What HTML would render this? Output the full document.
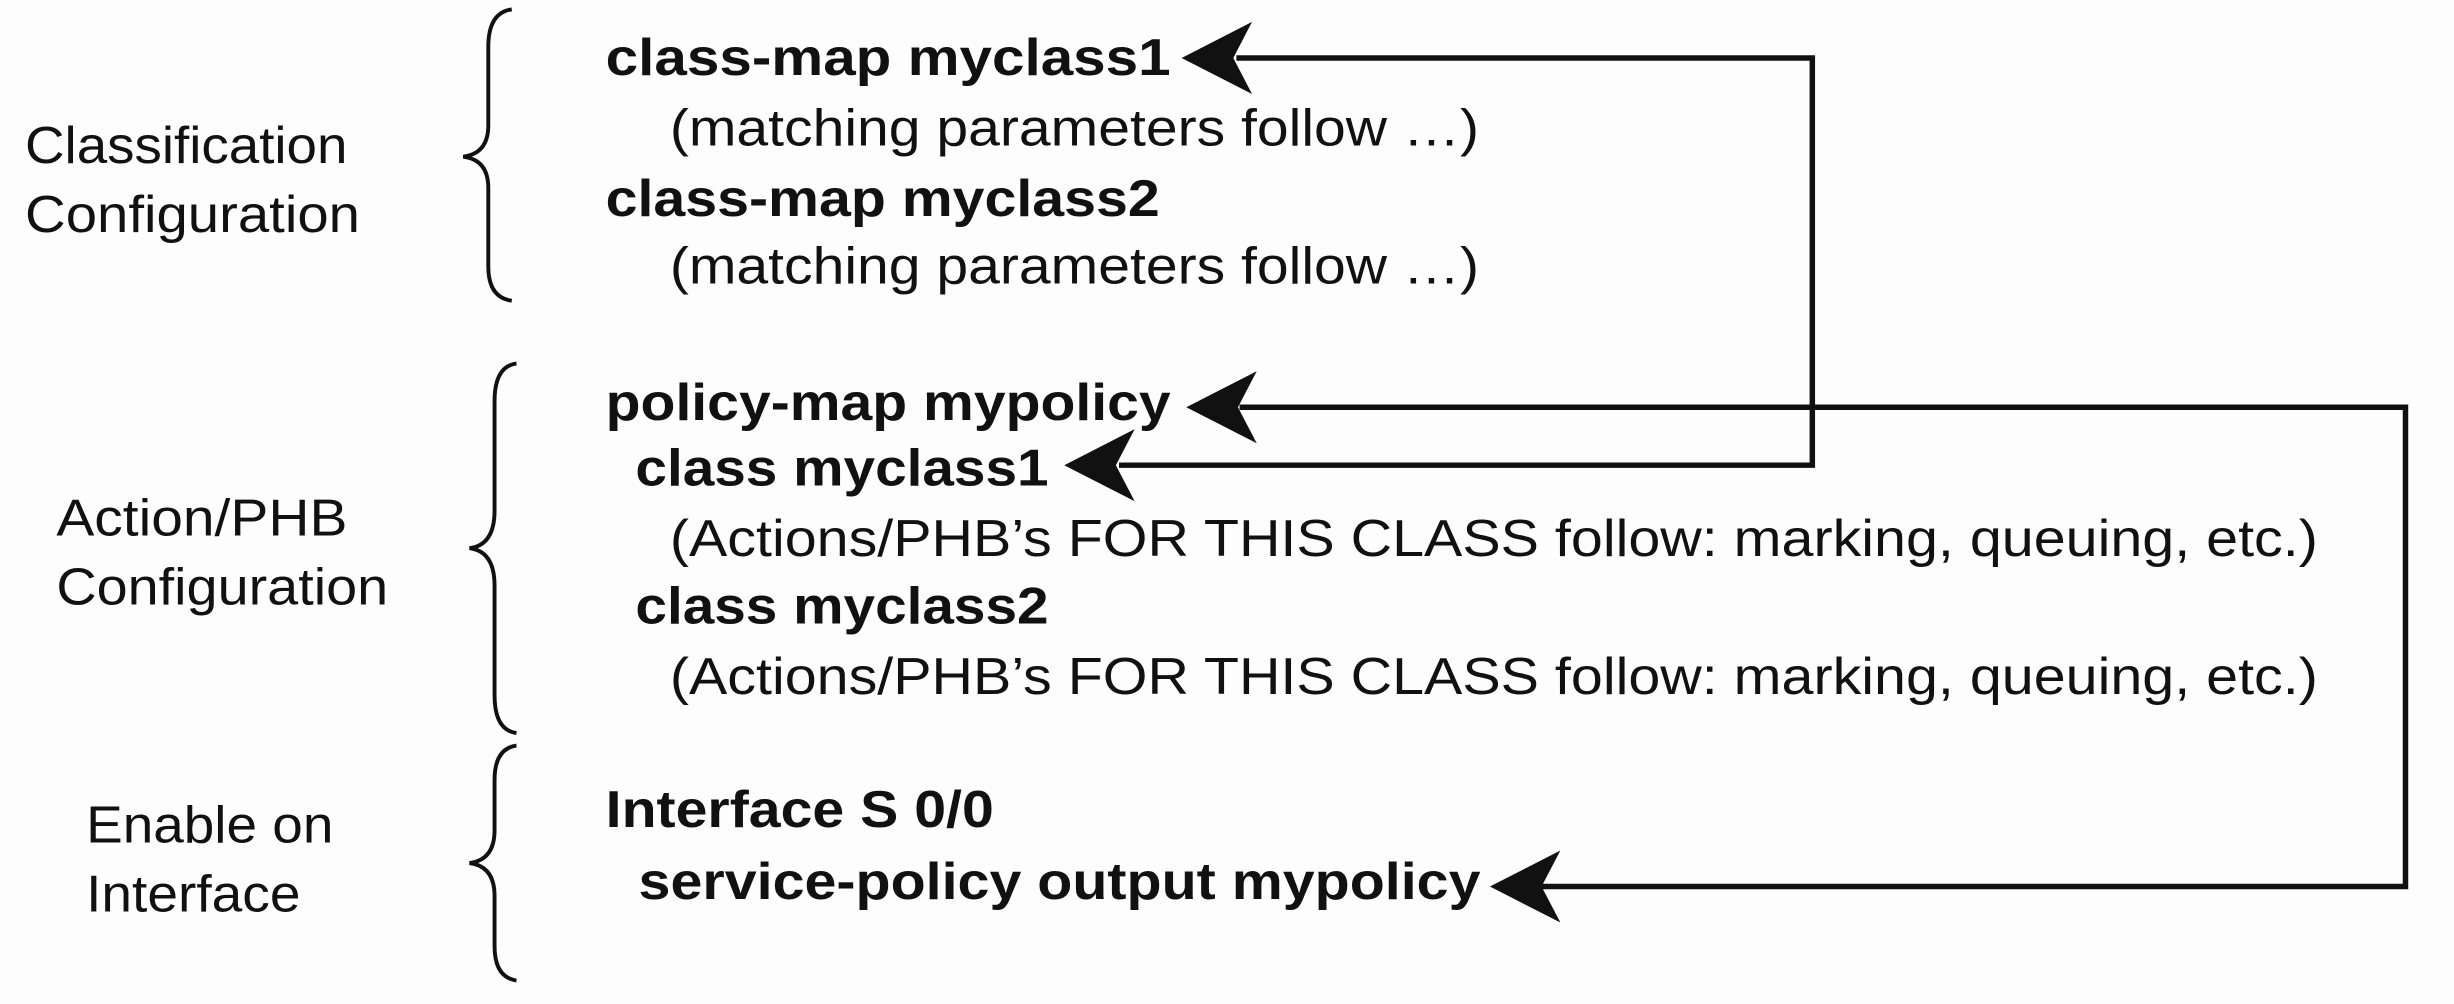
<!DOCTYPE html>
<html><head><meta charset="utf-8"><style>html,body{margin:0;padding:0;background:#fdfdfd}svg{display:block}</style></head><body>
<svg width="2454" height="1004" viewBox="0 0 1568 641" preserveAspectRatio="none" xmlns="http://www.w3.org/2000/svg" font-family="Liberation Sans, sans-serif" fill="#111">
<rect width="1568" height="641" fill="#fdfdfd"/>
<g font-size="33" font-weight="bold">
<text x="387" y="48" textLength="361" lengthAdjust="spacingAndGlyphs">class-map myclass1</text>
<text x="387" y="138" textLength="354" lengthAdjust="spacingAndGlyphs">class-map myclass2</text>
<text x="387" y="268" textLength="361" lengthAdjust="spacingAndGlyphs">policy-map mypolicy</text>
<text x="406" y="310" textLength="264" lengthAdjust="spacingAndGlyphs">class myclass1</text>
<text x="406" y="398" textLength="264" lengthAdjust="spacingAndGlyphs">class myclass2</text>
<text x="387" y="528" textLength="248" lengthAdjust="spacingAndGlyphs">Interface S 0/0</text>
<text x="408" y="574" textLength="538" lengthAdjust="spacingAndGlyphs">service-policy output mypolicy</text>
</g>
<g font-size="33">
<text x="428" y="93" textLength="517" lengthAdjust="spacingAndGlyphs">(matching parameters follow …)</text>
<text x="428" y="181" textLength="517" lengthAdjust="spacingAndGlyphs">(matching parameters follow …)</text>
<text x="428" y="355" textLength="1053" lengthAdjust="spacingAndGlyphs">(Actions/PHB’s FOR THIS CLASS follow: marking, queuing, etc.)</text>
<text x="428" y="443" textLength="1053" lengthAdjust="spacingAndGlyphs">(Actions/PHB’s FOR THIS CLASS follow: marking, queuing, etc.)</text>
<text x="16" y="104" textLength="206" lengthAdjust="spacingAndGlyphs">Classification</text>
<text x="16" y="148" textLength="214" lengthAdjust="spacingAndGlyphs">Configuration</text>
<text x="36" y="342" textLength="186" lengthAdjust="spacingAndGlyphs">Action/PHB</text>
<text x="36" y="386" textLength="212" lengthAdjust="spacingAndGlyphs">Configuration</text>
<text x="55" y="538" textLength="158" lengthAdjust="spacingAndGlyphs">Enable on</text>
<text x="55" y="582" textLength="137" lengthAdjust="spacingAndGlyphs">Interface</text>
</g>
<g fill="none" stroke="#111" stroke-width="2.5">
<path d="M327,6 Q312,8 312,30 L312,80 Q312,98 296,100 Q312,102 312,120 L312,170 Q312,190 327,192"/>
<path d="M330,232 Q316,234 316,256 L316,326 Q316,348 300,350 Q316,352 316,374 L316,444 Q316,466 330,468"/>
<path d="M330,476 Q316,478 316,498 L316,530 Q316,549 300,551 Q316,553 316,572 L316,604 Q316,624 330,626"/>
</g>
<g fill="none" stroke="#111" stroke-width="3.5">
<polyline points="790,37 1158,37 1158,297 715,297"/>
<polyline points="792,260 1537,260 1537,566 985,566"/>
</g>
<g fill="#111">
<polygon points="755,37 800,14 788,37 800,60"/>
<polygon points="680,297 725,274 713,297 725,320"/>
<polygon points="758,260 803,237 791,260 803,283"/>
<polygon points="952,566 997,543 985,566 997,589"/>
</g>
</svg>
</body></html>
